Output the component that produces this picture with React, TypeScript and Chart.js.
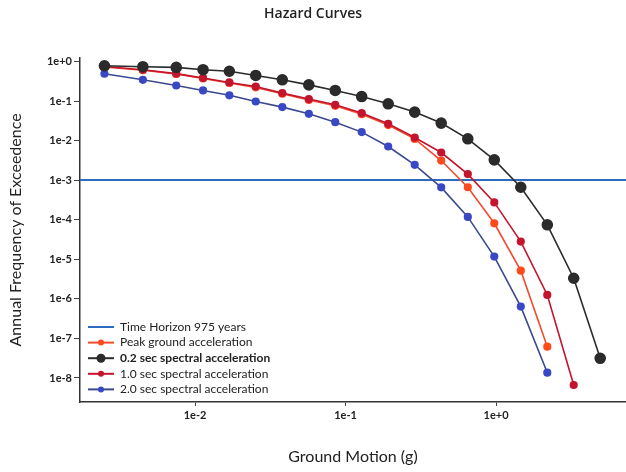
import React, { useEffect, useRef } from 'react';
import { Chart, registerables } from 'chart.js';

Chart.register(...registerables);

// Ground motion levels (g)
const groundMotion = [0.0025, 0.0045, 0.0075, 0.0113, 0.0169, 0.0253, 0.038, 0.057, 0.0854, 0.128, 0.192, 0.288, 0.432, 0.649, 0.973, 1.46, 2.19, 3.28, 4.92];

// Annual frequency of exceedance per series
const pga = [0.74, 0.61, 0.49, 0.38, 0.29, 0.225, 0.155, 0.108, 0.077, 0.047, 0.025, 0.0112, 0.00317, 6.7e-4, 8.2e-5, 5.2e-6, 6.2e-8];
const sa02 = [0.79, 0.75, 0.72, 0.63, 0.575, 0.45, 0.35, 0.26, 0.188, 0.132, 0.0865, 0.0533, 0.0281, 0.01124, 0.0033, 6.7e-4, 7.5e-5, 3.34e-6, 3.15e-8];
const sa10 = [0.76, 0.63, 0.5, 0.39, 0.3, 0.237, 0.161, 0.114, 0.0815, 0.0503, 0.0269, 0.0121, 0.00506, 0.00144, 2.77e-4, 2.82e-5, 1.26e-6, 6.65e-9];
const sa20 = [0.497, 0.35, 0.251, 0.188, 0.142, 0.0989, 0.0713, 0.0483, 0.0297, 0.0166, 0.00718, 0.00247, 6.65e-4, 1.19e-4, 1.18e-5, 6.4e-7, 1.36e-8];

const timeHorizonYears = 975;

const xTicks = [0.01, 0.1, 1];
const yTicks = [1, 1e-1, 1e-2, 1e-3, 1e-4, 1e-5, 1e-6, 1e-7, 1e-8];
const xMin = 0.00172;
const xMax = 7.3;
const yMin = 2.47e-9;
const yMax = 1.26;

const seriesLabels = [
  'Time Horizon 975 years',
  'Peak ground acceleration',
  '0.2 sec spectral acceleration',
  '1.0 sec spectral acceleration',
  '2.0 sec spectral acceleration',
];

const FONT = 'Lato, "Open Sans", sans-serif';

const toPoints = (ys: number[]) => ys.map((y, i) => ({ x: groundMotion[i], y }));

const fmt = (v: number) => Number(v).toExponential(0);

const insideLegend = {
  id: 'insideLegend',
  afterDraw(chart: any) {
    const { ctx, chartArea } = chart;
    const x0 = chartArea.left + 8;
    let y = chartArea.bottom - 75;
    ctx.save();
    chart.data.datasets.forEach((ds: any, i: number) => {
      ctx.strokeStyle = ds.borderColor;
      ctx.lineWidth = 2;
      ctx.beginPath();
      ctx.moveTo(x0, y);
      ctx.lineTo(x0 + 26, y);
      ctx.stroke();
      if (ds.pointRadius > 0) {
        ctx.fillStyle = ds.pointBackgroundColor;
        ctx.beginPath();
        ctx.arc(x0 + 13, y, ds.pointRadius >= 5 ? 4.5 : 3, 0, Math.PI * 2);
        ctx.fill();
      }
      ctx.fillStyle = '#222';
      ctx.font = `${i === 2 ? 'bold ' : ''}12px ${FONT}`;
      ctx.textBaseline = 'middle';
      ctx.textAlign = 'left';
      ctx.fillText(ds.label, x0 + 32, y);
      y += 15.6;
    });
    ctx.restore();
  },
};

export default function App() {
  const ref = useRef<HTMLCanvasElement | null>(null);

  useEffect(() => {
    document.body.style.margin = '0';
    const canvas = ref.current;
    if (!canvas) return;
    const th = 1 / timeHorizonYears;
    const chart = new Chart(canvas, {
      type: 'line',
      data: {
        datasets: [
          {
            label: seriesLabels[0],
            data: [{ x: xMin, y: th }, { x: xMax, y: th }],
            borderColor: '#2e6bc0',
            backgroundColor: '#2e6bc0',
            pointBackgroundColor: '#2e6bc0',
            borderWidth: 2,
            pointRadius: 0,
            order: 5,
          },
          {
            label: seriesLabels[1],
            data: toPoints(pga),
            borderColor: '#f24a2e',
            backgroundColor: '#ff4a1c',
            pointBackgroundColor: '#ff4a1c',
            pointBorderColor: '#ff4a1c',
            borderWidth: 1.6,
            pointRadius: 3.3,
            order: 3,
          },
          {
            label: seriesLabels[2],
            data: toPoints(sa02),
            borderColor: '#2b2b2b',
            backgroundColor: '#2b2b2b',
            pointBackgroundColor: '#2b2b2b',
            pointBorderColor: '#2b2b2b',
            borderWidth: 1.6,
            pointRadius: 5,
            order: 1,
          },
          {
            label: seriesLabels[3],
            data: toPoints(sa10),
            borderColor: '#c3152d',
            backgroundColor: '#c3152d',
            pointBackgroundColor: '#c3152d',
            pointBorderColor: '#c3152d',
            borderWidth: 1.6,
            pointRadius: 3.3,
            order: 2,
          },
          {
            label: seriesLabels[4],
            data: toPoints(sa20),
            borderColor: '#3b4a8f',
            backgroundColor: '#3a48c4',
            pointBackgroundColor: '#3a48c4',
            pointBorderColor: '#3a48c4',
            borderWidth: 1.6,
            pointRadius: 3.3,
            order: 4,
          },
        ],
      },
      options: {
        responsive: false,
        animation: false,
        devicePixelRatio: 1,
        layout: { padding: 0, autoPadding: false },
        plugins: {
          legend: { display: false },
          tooltip: { enabled: false },
          title: {
            display: true,
            text: 'Hazard Curves',
            color: '#222',
            font: { family: '"Open Sans", sans-serif', size: 14, weight: '600' },
            padding: { top: 6, bottom: 35 },
          },
        },
        scales: {
          x: {
            type: 'logarithmic',
            min: xMin,
            max: xMax,
            afterBuildTicks: (s: any) => {
              s.ticks = xTicks.map((v) => ({ value: v }));
            },
            afterFit: (s: any) => {
              s.height = 70;
              s.paddingRight = 0;
              s.paddingLeft = 0;
            },
            ticks: {
              callback: (v: any) => fmt(v),
              color: '#222',
              font: { family: FONT, size: 11, weight: 'bold' },
              padding: 3,
              maxRotation: 0,
              autoSkip: false,
            },
            grid: { drawOnChartArea: false, drawTicks: true, tickLength: 4, color: '#444' },
            border: { display: true, color: '#333', width: 1.5 },
            title: {
              display: true,
              text: 'Ground Motion (g)',
              color: '#222',
              font: { family: FONT, size: 16, weight: 'normal' },
              padding: { top: 0, bottom: 6 },
            },
          },
          y: {
            type: 'logarithmic',
            min: yMin,
            max: yMax,
            afterBuildTicks: (s: any) => {
              s.ticks = yTicks.map((v) => ({ value: v }));
            },
            afterFit: (s: any) => {
              s.width = 80;
            },
            ticks: {
              callback: (v: any) => fmt(v),
              color: '#222',
              font: { family: FONT, size: 11, weight: 'bold' },
              padding: 2,
              autoSkip: false,
            },
            grid: { drawOnChartArea: false, drawTicks: true, tickLength: 6, color: '#444' },
            border: { display: true, color: '#333', width: 1.5 },
            title: {
              display: true,
              text: 'Annual Frequency of Exceedence',
              color: '#222',
              font: { family: FONT, size: 16, weight: 'normal' },
              padding: { top: 6, bottom: 0 },
            },
          },
        },
      },
      plugins: [insideLegend],
    } as any);
    return () => chart.destroy();
  }, []);

  return (
    <div style={{ width: 626, height: 472 }}>
      <canvas ref={ref} width={626} height={472} style={{ display: 'block' }} />
    </div>
  );
}
